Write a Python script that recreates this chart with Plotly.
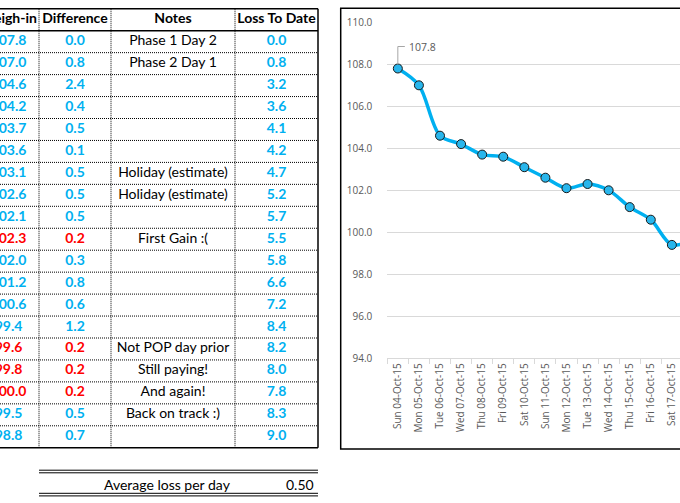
import plotly.graph_objects as go

# ---------------- data ----------------
dates = ["Sun 04-Oct-15", "Mon 05-Oct-15", "Tue 06-Oct-15", "Wed 07-Oct-15",
         "Thu 08-Oct-15", "Fri 09-Oct-15", "Sat 10-Oct-15", "Sun 11-Oct-15",
         "Mon 12-Oct-15", "Tue 13-Oct-15", "Wed 14-Oct-15", "Thu 15-Oct-15",
         "Fri 16-Oct-15", "Sat 17-Oct-15", "Sun 18-Oct-15", "Mon 19-Oct-15",
         "Tue 20-Oct-15", "Wed 21-Oct-15", "Thu 22-Oct-15"]
weigh_in = [107.8, 107.0, 104.6, 104.2, 103.7, 103.6, 103.1, 102.6, 102.1, 102.3,
            102.0, 101.2, 100.6, 99.4, 99.6, 99.8, 100.0, 99.5, 98.8]
difference = [0.0, 0.8, 2.4, 0.4, 0.5, 0.1, 0.5, 0.5, 0.5, 0.2,
              0.3, 0.8, 0.6, 1.2, 0.2, 0.2, 0.2, 0.5, 0.7]
notes = ["Phase 1 Day 2", "Phase 2 Day 1", "", "", "", "", "Holiday (estimate)",
         "Holiday (estimate)", "", "First Gain :(", "", "", "", "",
         "Not POP day prior", "Still paying!", "And again!", "Back on track :)", ""]
loss_to_date = [0.0, 0.8, 3.2, 3.6, 4.1, 4.2, 4.7, 5.2, 5.7, 5.5,
                5.8, 6.6, 7.2, 8.4, 8.2, 8.0, 7.8, 8.3, 9.0]
headers = ["Weigh-in", "Difference", "Notes", "Loss To Date"]
avg_label = "Average loss per day"
avg_value = 0.50
y_ticks = [94, 96, 98, 100, 102, 104, 106, 108, 110]

# ---------------- styling / layout constants ----------------
W, H = 680, 503
BLUE = "#00B0F0"
RED = "#FF0000"
GRAY_TXT = "#595959"
GRID = "#D9D9D9"
TFONT = "Lato"
CFONT = "Open Sans"

col_edges = [-22, 39, 111, 235, 318]
col_centers = [(col_edges[i] + col_edges[i + 1]) / 2 for i in range(4)]
HDR_BOT_PX = 30.7
ROW_H = 21.95


def px_to_row(p):
    return (p - HDR_BOT_PX) / ROW_H - 0.5


n = len(weigh_in)
rows = list(range(n))
gain = [i > 0 and weigh_in[i] > weigh_in[i - 1] for i in range(n)]
num_colors = [RED if g else BLUE for g in gain]

fig = go.Figure()

# ---------------- chart ----------------
fig.add_trace(go.Scatter(
    x=dates, y=weigh_in, mode="lines+markers",
    line=dict(color=BLUE, width=3.5, shape="spline", smoothing=0.9),
    marker=dict(size=9, color="#29B6EC", line=dict(color="#1a1a1a", width=1)),
    hoverinfo="skip", xaxis="x", yaxis="y",
))

# ---------------- table text ----------------
tab = dict(xaxis="x2", yaxis="y2", mode="text", cliponaxis=False, hoverinfo="skip")
fig.add_trace(go.Scatter(
    x=col_centers, y=[-1] * 4, text=headers,
    textfont=dict(family=TFONT, size=14, color="black", weight="bold"), **tab))
fig.add_trace(go.Scatter(
    x=[col_centers[0]] * n, y=rows, text=[f"{v:.1f}" for v in weigh_in],
    textfont=dict(family=TFONT, size=14, color=num_colors, weight="bold"), **tab))
fig.add_trace(go.Scatter(
    x=[col_centers[1]] * n, y=rows, text=[f"{v:.1f}" for v in difference],
    textfont=dict(family=TFONT, size=14, color=num_colors, weight="bold"), **tab))
fig.add_trace(go.Scatter(
    x=[col_centers[2]] * n, y=rows, text=notes,
    textfont=dict(family=TFONT, size=14, color="black"), **tab))
fig.add_trace(go.Scatter(
    x=[col_centers[3]] * n, y=rows, text=[f"{v:.1f}" for v in loss_to_date],
    textfont=dict(family=TFONT, size=14, color=BLUE, weight="bold"), **tab))

shapes = []
# table borders
top_v, bot_v = -1.5, n - 0.5
for v in (top_v, -0.5, bot_v):
    shapes.append(dict(type="line", xref="x2", yref="y2", x0=-30, x1=col_edges[-1],
                       y0=v, y1=v, line=dict(color="black", width=1.5)))
shapes.append(dict(type="line", xref="x2", yref="y2", x0=col_edges[-1], x1=col_edges[-1],
                   y0=top_v, y1=bot_v, line=dict(color="black", width=1.5)))
for i in range(n - 1):
    shapes.append(dict(type="line", xref="x2", yref="y2", x0=-30, x1=col_edges[-1],
                       y0=i + 0.5, y1=i + 0.5, line=dict(color="black", width=1, dash="1px,1px")))
for e in col_edges[1:-1]:
    shapes.append(dict(type="line", xref="x2", yref="y2", x0=e, x1=e,
                       y0=top_v, y1=bot_v, line=dict(color="black", width=1, dash="1px,1px")))
# average row double lines
for p in (470.2, 472.8, 493.3, 495.9):
    v = px_to_row(p)
    shapes.append(dict(type="line", xref="x2", yref="y2", x0=col_edges[1], x1=col_edges[-1],
                       y0=v, y1=v, line=dict(color="black", width=1)))

# chart border
shapes.append(dict(type="rect", xref="paper", yref="paper",
                   x0=340.7 / W, x1=1.05, y0=1 - 449 / H, y1=1 - 8.3 / H,
                   line=dict(color="black", width=1.5), fillcolor="rgba(0,0,0,0)", layer="below"))
# data label leader line
shapes.append(dict(type="path", xref="x", yref="y", xsizemode="pixel", ysizemode="pixel",
                   xanchor=dates[0], yanchor=weigh_in[0],
                   path="M0,4 L0,22 L7,22", line=dict(color="#A6A6A6", width=1)))

annotations = [
    dict(x=dates[0], y=weigh_in[0], xref="x", yref="y", xshift=25, yshift=22,
         text=f"{weigh_in[0]:.1f}", showarrow=False,
         font=dict(family=CFONT, size=10.5, color=GRAY_TXT)),
    dict(x=233, y=px_to_row(484), xref="x2", yref="y2", xanchor="right",
         text=avg_label, showarrow=False, font=dict(family=TFONT, size=14, color="black")),
    dict(x=316, y=px_to_row(484), xref="x2", yref="y2", xanchor="right",
         text=f"{avg_value:.2f}", showarrow=False, font=dict(family=TFONT, size=14, color="black")),
]

x_left_px = 387.3
cat_w = 21.08
fig.update_layout(
    width=W, height=H, margin=dict(l=0, r=0, t=0, b=0, pad=0, autoexpand=False),
    paper_bgcolor="white", plot_bgcolor="white", showlegend=False,
    xaxis=dict(domain=[x_left_px / W, 1.0], type="category",
               range=[-0.5, -0.5 + (W - x_left_px) / cat_w],
               tickangle=-90, tickson="boundaries", ticks="outside", ticklen=5,
               tickcolor=GRID, showline=True, linecolor=GRID, linewidth=1,
               showgrid=False, tickfont=dict(family=CFONT, size=10, color=GRAY_TXT),
               anchor="y", fixedrange=True, automargin=False),
    yaxis=dict(domain=[1 - 358.3 / H, 1 - 22.3 / H], range=[94, 110],
               tickvals=y_ticks, ticktext=[f"{v:.1f}" for v in y_ticks],
               showgrid=True, gridcolor=GRID, gridwidth=1, zeroline=False,
               showline=False, ticks="", ticklabelstandoff=14,
               tickfont=dict(family=CFONT, size=10, color=GRAY_TXT),
               anchor="x", fixedrange=True, automargin=False),
    xaxis2=dict(domain=[0, 330 / W], range=[0, 330], visible=False, anchor="y2",
                fixedrange=True, automargin=False),
    yaxis2=dict(domain=[0, 1], range=[px_to_row(H), px_to_row(0)], visible=False,
                anchor="x2", fixedrange=True, automargin=False),
    shapes=shapes, annotations=annotations,
)

fig.write_html("out.html", config={"displayModeBar": False},
               post_script="document.body.style.margin='0';document.body.style.overflow='hidden';")
